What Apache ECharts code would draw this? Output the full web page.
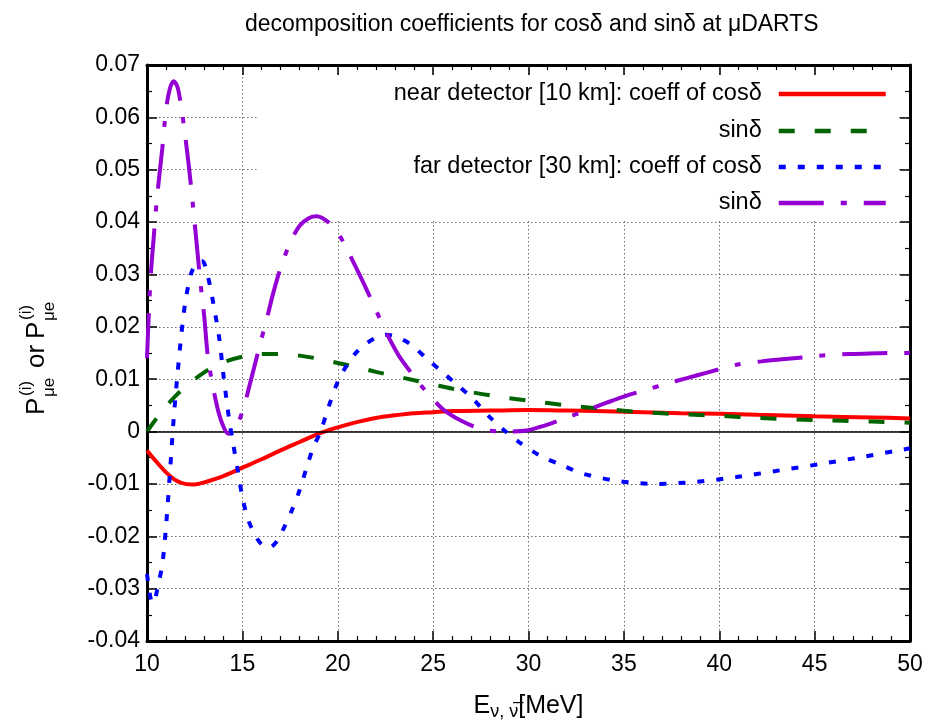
<!DOCTYPE html>
<html><head><meta charset="utf-8">
<script src="https://cdn.jsdelivr.net/npm/echarts@6/dist/echarts.min.js"></script>
<style>html,body{margin:0;padding:0;background:#fff}#c{width:945px;height:726px}</style>
</head><body><div id="c"></div>
<script>
// ---- data ----
const titleText = 'decomposition coefficients for cosδ and sinδ at μDARTS';
const seriesKeys = ['nearCos', 'nearSin', 'farCos', 'farSin'];
const legendLabels = ['near detector [10 km]: coeff of cosδ', 'sinδ', 'far detector [30 km]: coeff of cosδ', 'sinδ'];

const nearCosE = [10,10.5,11,11.5,12,12.5,13,14,15,16,17,18,19,20,21,22,23,24,25,26,28,30,32,35,38,40,42,45,48,50];
const nearCosP = [-0.0036,-0.0058,-0.0078,-0.0093,-0.0100,-0.0101,-0.0097,-0.0085,-0.0069,-0.0053,-0.0036,-0.0020,-0.0004,0.0008,0.0018,0.0026,0.0031,0.0035,0.0037,0.0039,0.0040,0.0041,0.0040,0.0038,0.0035,0.0034,0.0032,0.0029,0.0027,0.0025];

const nearSinE = [10,10.5,11,11.5,12,13,14,15,16,17,18,19,20,21,22,23,24,25,26,28,30,32,34,36,38,40,42,45,48,50];
const nearSinP = [0.0000,0.0025,0.0048,0.0068,0.0085,0.0113,0.0132,0.0143,0.0148,0.0148,0.0145,0.0139,0.0131,0.0123,0.0114,0.0106,0.0098,0.0090,0.0082,0.0069,0.0059,0.0050,0.0043,0.0037,0.0033,0.0030,0.0026,0.0022,0.0019,0.0017];

const farCosE = [10,10.1,10.2,10.3,10.4,10.5,10.6,10.8,11.0,11.2,11.4,11.6,11.8,12.0,12.3,12.6,12.9,13.2,13.5,13.8,14.0,14.3,14.5,14.75,15.0,15.3,15.7,16.0,16.4,16.8,17.1,17.6,18.0,18.4,18.7,19.1,19.5,20.0,20.5,21.0,21.5,22.0,22.5,23.0,23.8,24.7,25.5,26.4,27.1,27.9,28.8,29.5,30.6,31.8,32.9,34.8,36.7,38.8,40.9,43.2,45.3,47.4,49.4,50];
const farCosP = [-0.0272,-0.0300,-0.0320,-0.0328,-0.0322,-0.0308,-0.0290,-0.0255,-0.0180,-0.0080,0.0025,0.0110,0.0185,0.0245,0.0300,0.0322,0.0325,0.0295,0.0240,0.0175,0.0110,0.0025,-0.0020,-0.0072,-0.0125,-0.0168,-0.0200,-0.0215,-0.0222,-0.0210,-0.0190,-0.0150,-0.0112,-0.0065,-0.0032,0.0000,0.0045,0.0095,0.0128,0.0152,0.0168,0.0179,0.0185,0.0182,0.0167,0.0138,0.0113,0.0085,0.0062,0.0030,0.0000,-0.0020,-0.0046,-0.0065,-0.0081,-0.0095,-0.0100,-0.0096,-0.0087,-0.0074,-0.0062,-0.0049,-0.0036,-0.0032];

const farSinE = [10,10.1,10.2,10.35,10.5,10.65,10.8,11.0,11.2,11.4,11.6,11.8,12.0,12.2,12.4,12.6,12.8,13.0,13.2,13.5,13.75,14.0,14.25,14.5,14.75,15.0,15.25,15.6,15.9,16.3,16.6,17.0,17.5,18.0,18.5,18.9,19.5,20.0,20.5,21.0,21.5,22.0,22.6,23.2,24.0,24.6,25.5,26.5,27.6,28.7,29.9,30.8,31.8,33.0,34.1,35.1,36.2,37.2,38.3,39.5,40.2,41.1,42.2,43.3,44.5,45.6,46.8,47.9,49.0,50];
const farSinP = [0.0140,0.0230,0.0300,0.0370,0.0437,0.0490,0.0540,0.0615,0.0655,0.0669,0.0658,0.0618,0.0565,0.0505,0.0435,0.0360,0.0285,0.0220,0.0140,0.0078,0.0037,0.0010,-0.0004,0.0002,0.0015,0.0038,0.0070,0.0120,0.0163,0.0218,0.0262,0.0312,0.0360,0.0393,0.0408,0.0411,0.0400,0.0380,0.0347,0.0310,0.0272,0.0232,0.0185,0.0145,0.0105,0.0078,0.0043,0.0020,0.0004,0.0000,0.0002,0.0011,0.0024,0.0040,0.0055,0.0068,0.0080,0.0091,0.0102,0.0114,0.0121,0.0129,0.0134,0.0138,0.0142,0.0146,0.0148,0.0149,0.0150,0.0150];

const xTicks = {min: 10, max: 50, interval: 5};
const yTicks = {min: -0.04, max: 0.07, interval: 0.01};

// ---- build ----
const FONT = "'Liberation Sans Narrow', 'Liberation Sans', Arial, sans-serif";
const zip = (a, b) => a.map((v, i) => [v, b[i]]);
const seriesData = [zip(nearCosE, nearCosP), zip(nearSinE, nearSinP), zip(farCosE, farCosP), zip(farSinE, farSinP)];
const styles = [
  {color: '#ff0000', type: 'solid'},
  {color: '#006400', type: [16, 20]},
  {color: '#0000ff', type: [7, 12]},
  {color: '#9400d3', type: [45, 17, 6, 17]}
];
const labelOf = {};
seriesKeys.forEach((k, i) => labelOf[k] = legendLabels[i]);

const series = seriesKeys.map((k, i) => {
  const s = {
    name: k, type: 'line', data: seriesData[i], smooth: 0.3, symbol: 'none', showSymbol: false,
    lineStyle: {color: styles[i].color, width: 4, type: styles[i].type},
    itemStyle: {color: styles[i].color},
    z: 3 + i, animation: false
  };
  if (i === 0) {
    s.markLine = {silent: true, symbol: ['none', 'none'], label: {show: false},
      lineStyle: {color: '#000', width: 1.5, type: 'solid'}, data: [{yAxis: 0}], animation: false};
  }
  return s;
});

const legendRowCenters = [94, 131, 167, 203];
const legends = seriesKeys.map((k, i) => ({
  data: [k], orient: 'vertical', right: 57, top: legendRowCenters[i] - 12, padding: 0,
  align: 'right', itemWidth: 107, itemHeight: 24, selectedMode: false,
  itemStyle: {opacity: 0, color: 'rgba(0,0,0,0)', borderWidth: 0},
  lineStyle: {width: 4.5, color: styles[i].color, type: styles[i].type, opacity: 1},
  formatter: name => labelOf[name],
  textStyle: {fontFamily: FONT, fontSize: 23.5, color: '#000', lineHeight: 24, padding: [0, 12, 0, 0]}
}));

const axisLine = {show: true, onZero: false, lineStyle: {color: '#000', width: 3}};
const axisTick = {show: true, inside: true, length: 10, lineStyle: {color: '#000', width: 1.5}};
const splitLine = {show: true, lineStyle: {color: '#6e6e6e', width: 1, type: [1.5, 2.5]}};

const option = {
  backgroundColor: '#fff',
  animation: false,
  title: {text: titleText, left: 240, top: 8, textStyle: {fontFamily: FONT, fontSize: 23, fontWeight: 'normal', color: '#000'}},
  grid: {left: 147, right: 35, top: 65, bottom: 83, containLabel: false},
  legend: legends,
  xAxis: [
    {type: 'value', position: 'bottom', min: xTicks.min, max: xTicks.max, interval: xTicks.interval,
     axisLine, axisTick, minorTick: {show: true, splitNumber: 5, length: 5, lineStyle: {color: '#000', width: 1.2}},
     axisLabel: {fontFamily: FONT, fontSize: 23, color: '#000', margin: 12}, splitLine,
     name: '{e|E}{s|ν, ν̅}{m|[MeV]}', nameLocation: 'middle', nameGap: 50,
     nameTextStyle: {rich: {
       e: {fontFamily: FONT, fontSize: 25, color: '#000', lineHeight: 30},
       s: {fontFamily: FONT, fontSize: 18, color: '#000', verticalAlign: 'bottom', lineHeight: 30, padding: [14, 0, 0, 0]},
       m: {fontFamily: FONT, fontSize: 25, color: '#000', lineHeight: 30}
     }}},
    {type: 'value', position: 'top', min: xTicks.min, max: xTicks.max, interval: xTicks.interval,
     axisLine, axisTick, minorTick: {show: true, splitNumber: 5, length: 5, lineStyle: {color: '#000', width: 1.2}},
     axisLabel: {show: false}, splitLine: {show: false}}
  ],
  yAxis: [
    {type: 'value', position: 'left', min: yTicks.min, max: yTicks.max, interval: yTicks.interval,
     axisLine, axisTick, minorTick: {show: true, splitNumber: 2, length: 5, lineStyle: {color: '#000', width: 1.2}},
     axisLabel: {fontFamily: FONT, fontSize: 23, color: '#000', margin: 7,
       formatter: v => Math.abs(v) < 1e-9 ? '0' : v.toFixed(2)}, splitLine},
    {type: 'value', position: 'right', min: yTicks.min, max: yTicks.max, interval: yTicks.interval,
     axisLine, axisTick, minorTick: {show: true, splitNumber: 2, length: 5, lineStyle: {color: '#000', width: 1.2}},
     axisLabel: {show: false}, splitLine: {show: false}}
  ],
  graphic: {elements: [
    {type: 'rect', shape: {x: 258, y: 76, width: 641, height: 143}, style: {fill: '#fff'}, z: 1, silent: true},
    {type: 'group', x: 37, y: 415, rotation: Math.PI / 2, children: [
      {type: 'text', x: 0, y: 0, style: {text: 'P', fontFamily: FONT, fontSize: 26, fill: '#000', align: 'left', verticalAlign: 'middle'}},
      {type: 'text', x: 19, y: -11, style: {text: '(i)', fontFamily: FONT, fontSize: 17, fill: '#000', align: 'left', verticalAlign: 'middle'}},
      {type: 'text', x: 18, y: 12, style: {text: 'μe', fontFamily: FONT, fontSize: 17, fill: '#000', align: 'left', verticalAlign: 'middle'}},
      {type: 'text', x: 47, y: 0, style: {text: 'or', fontFamily: FONT, fontSize: 26, fill: '#000', align: 'left', verticalAlign: 'middle'}},
      {type: 'text', x: 76, y: 0, style: {text: 'P', fontFamily: FONT, fontSize: 26, fill: '#000', align: 'left', verticalAlign: 'middle'}},
      {type: 'text', x: 95, y: -11, style: {text: '(i)', fontFamily: FONT, fontSize: 17, fill: '#000', align: 'left', verticalAlign: 'middle'}},
      {type: 'text', x: 94, y: 12, style: {text: 'μe', fontFamily: FONT, fontSize: 17, fill: '#000', align: 'left', verticalAlign: 'middle'}}
    ]}
  ]},
  series
};

const chart = echarts.init(document.getElementById('c'), null, {renderer: 'canvas'});
chart.setOption(option);
</script></body></html>
